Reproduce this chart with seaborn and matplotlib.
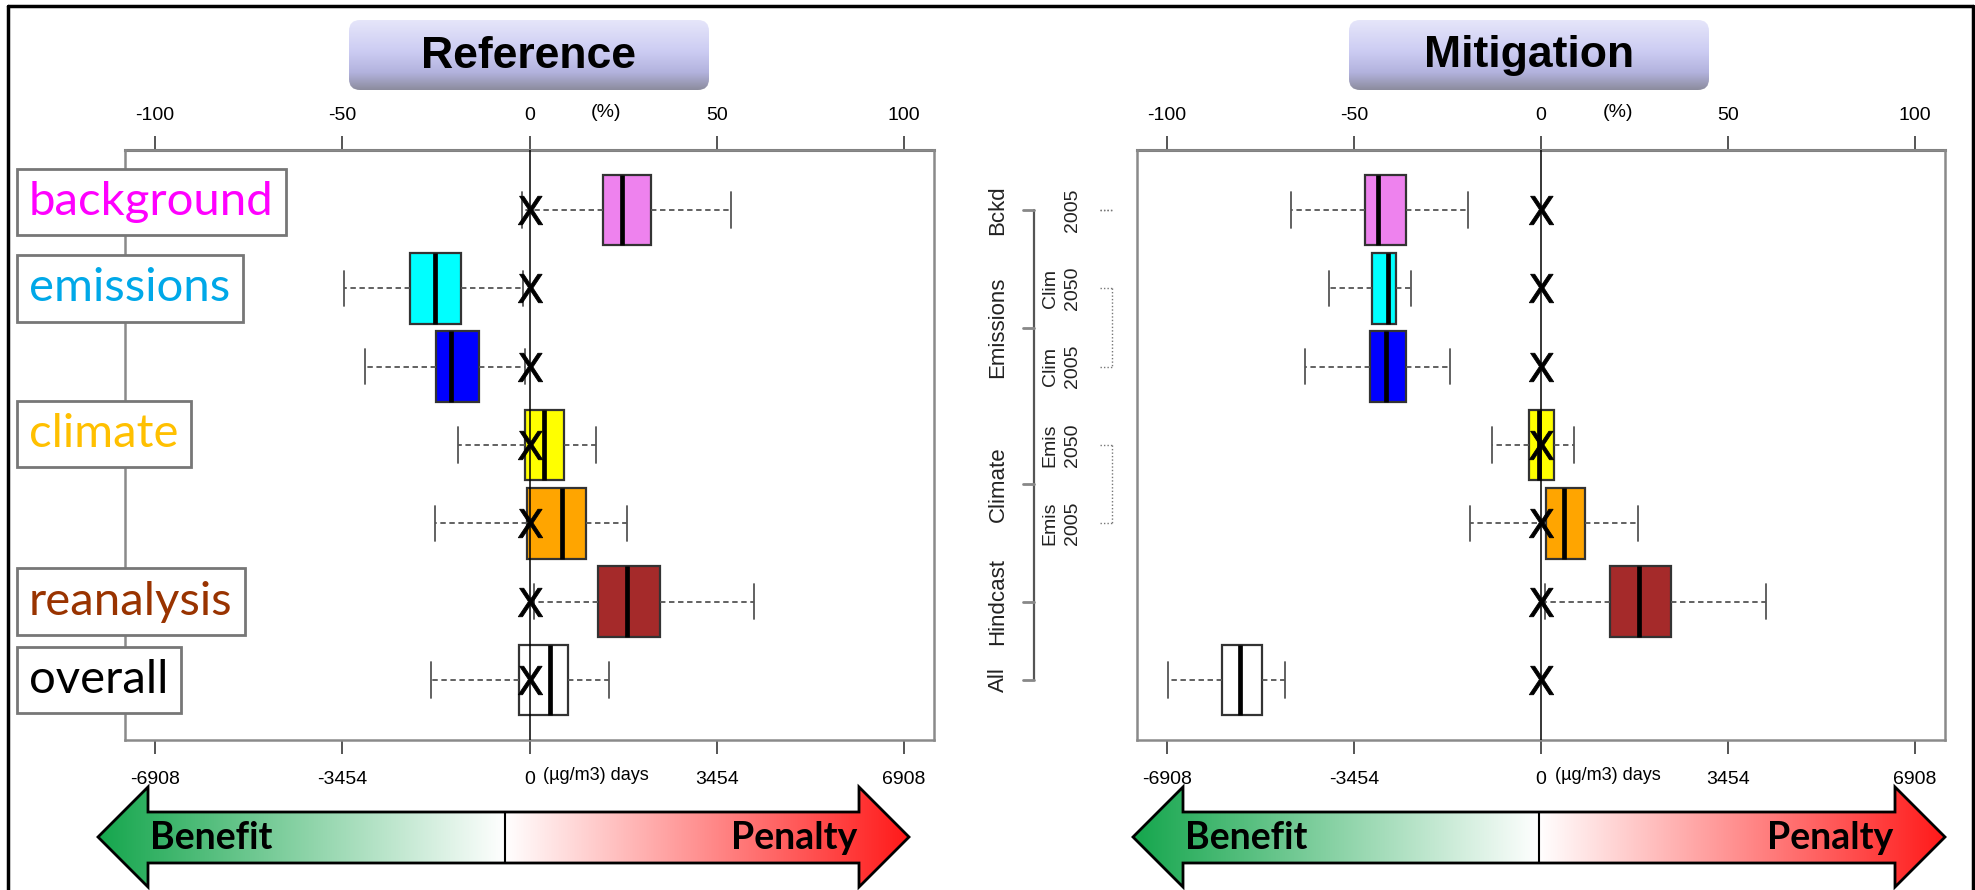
import numpy as np
import pandas as pd
import matplotlib
matplotlib.use('Agg')
import matplotlib.pyplot as plt
import matplotlib.transforms as mtransforms
from matplotlib.patches import FancyBboxPatch, Polygon
import seaborn as sns

# rows top to bottom, same order in both panels
rows = ['bckd', 'emis_clim2050', 'emis_clim2005', 'clim_emis2050', 'clim_emis2005', 'hindcast', 'all']
box_colors = ['violet', 'cyan', 'blue', 'yellow', 'orange', 'brown', 'white']

# five-number summaries (% of reference)
ref_low = [-1.9, -49.5, -43.9, -19.2, -25.3, 1.2, -26.4]
ref_q1 = [19.5, -31.8, -24.9, -1.3, -0.8, 18.4, -2.9]
ref_med = [24.7, -25.1, -21.0, 4.0, 8.8, 26.1, 5.4]
ref_q3 = [32.5, -18.2, -13.5, 9.3, 15.0, 34.8, 10.4]
ref_high = [53.7, -1.7, -1.3, 17.7, 26.1, 59.9, 21.2]
ref_marks = [0, 0, 0, 0, 0, 0, 0]

mit_low = [-66.8, -56.7, -63.0, -13.1, -18.9, 1.0, -99.7]
mit_q1 = [-47.1, -45.3, -45.8, -3.2, 1.3, 18.4, -85.4]
mit_med = [-43.6, -40.9, -41.4, -0.5, 6.1, 26.3, -80.5]
mit_q3 = [-36.2, -38.7, -36.0, 3.4, 11.8, 34.8, -74.6]
mit_high = [-19.4, -34.8, -24.2, 8.9, 25.9, 60.1, -68.4]
mit_marks = [0, 0, 0, 0, 0, 0, 0]

pct_ticks = [-100, -50, 0, 50, 100]
pct_labels = ['-100', '-50', '0', '50', '100']
days_labels = ['-6908', '-3454', '0', '3454', '6908']

ref_names = ['background', 'emissions', 'climate', 'reanalysis', 'overall']
ref_name_pos = [-0.1, 1.0, 2.86, 5.0, 6.0]
ref_name_colors = ['#FF00FF', '#00A8E8', '#FFC000', '#993300', 'black']

grp_names = ['Bckd', 'Emissions', 'Climate', 'Hindcast', 'All']
grp_pos = [0, 1.5, 3.5, 5, 6]
sub_top = ['', 'Clim', 'Clim', 'Emis', 'Emis']
sub_bot = ['2005', '2050', '2005', '2050', '2005']

sns.set_style('white')
plt.rcParams['font.family'] = ['Liberation Sans', 'DejaVu Sans']
plt.rcParams['text.color'] = 'black'
plt.rcParams['xtick.color'] = 'black'

W, H = 1975, 890
fig = plt.figure(figsize=(W / 100, H / 100), dpi=100)

ax_bg = fig.add_axes([0, 0, 1, 1], zorder=0)
ax_bg.axis('off')


def draw_panel(ax, low, q1, med, q3, high, marks):
    df = pd.DataFrame({
        'row': np.repeat(rows, 5),
        'value': np.column_stack([low, q1, med, q3, high]).ravel(),
    })
    sns.boxplot(data=df, x='value', y='row', hue='row', order=rows, hue_order=rows,
                palette=dict(zip(rows, box_colors)), saturation=1, width=0.9,
                whis=(0, 100), linecolor='#333333', linewidth=1.6, legend=False, ax=ax,
                medianprops={'color': 'black', 'linewidth': 3.4},
                whiskerprops={'color': '#555555', 'linestyle': (0, (3, 2)), 'linewidth': 1.3},
                capprops={'color': '#555555', 'linewidth': 1.3})
    ax.axvline(0, color='black', lw=1.1, zorder=4)
    ax.scatter(marks, np.arange(len(rows)), marker='$\\mathrm{X}$', s=420,
               color='black', linewidths=0.6, zorder=6)
    ax.set_xlim(-108, 108)
    ax.set_ylim(len(rows) - 1 + 0.766, -0.766)
    ax.set_xlabel('')
    ax.set_ylabel('')
    ax.set_yticks([])
    ax.set_xticks(pct_ticks, days_labels)
    ax.tick_params(axis='x', direction='out', length=10, width=1.4, color='#555555',
                   labelcolor='black', labelsize=14, pad=12, bottom=True)
    for sp in ax.spines.values():
        sp.set_color('#8a8a8a')
        sp.set_linewidth(1.8)
    top = ax.secondary_xaxis('top')
    top.set_xticks(pct_ticks, pct_labels)
    top.tick_params(axis='x', direction='out', length=10, width=1.4, color='#555555',
                    labelcolor='black', labelsize=14, pad=9)
    top.spines['top'].set_color('#666666')
    top.spines['top'].set_linewidth(2.2)
    ax.text(20.5, 1.063, '(%)', transform=mtransforms.blended_transform_factory(ax.transData, ax.transAxes),
            ha='center', va='center', fontsize=14)
    ax.text(3.7, -0.061, '(\u00b5g/m3) days',
            transform=mtransforms.blended_transform_factory(ax.transData, ax.transAxes),
            ha='left', va='center', fontsize=13)


ax1 = fig.add_axes([125 / W, (H - 740) / H, (934 - 125) / W, 590 / H], zorder=1)
draw_panel(ax1, ref_low, ref_q1, ref_med, ref_q3, ref_high, ref_marks)

ax2 = fig.add_axes([1137 / W, (H - 740) / H, (1945 - 1137) / W, 590 / H], zorder=1)
draw_panel(ax2, mit_low, mit_q1, mit_med, mit_q3, mit_high, mit_marks)

# left panel: boxed category labels
tr1 = mtransforms.blended_transform_factory(ax_bg.transData, ax1.transData)
for name, pos, col in zip(ref_names, ref_name_pos, ref_name_colors):
    ax1.text(29, pos, name, transform=tr1, ha='left', va='center', color=col,
             fontsize=34, family=['Lato', 'DejaVu Sans'], clip_on=False, zorder=10,
             bbox=dict(boxstyle='square,pad=0.26', facecolor='white', edgecolor='#777777', linewidth=2))

# right panel: grouped axis labels
tr2 = mtransforms.blended_transform_factory(ax_bg.transData, ax2.transData)
ax2.plot([1034, 1034], [grp_pos[0], grp_pos[-1]], transform=tr2, color='#555555', lw=1.6, clip_on=False)
for name, pos in zip(grp_names, grp_pos):
    ax2.plot([1023, 1034], [pos, pos], transform=tr2, color='#888888', lw=2, clip_on=False)
    ax2.text(998, pos, name, transform=tr2, rotation=90, ha='center', va='center',
             fontsize=16, color='#222222', clip_on=False)
for i, (t, b) in enumerate(zip(sub_top, sub_bot)):
    ax2.text(1050, i, t, transform=tr2, rotation=90, ha='center', va='center',
             fontsize=14, color='#222222', clip_on=False)
    ax2.text(1073, i, b, transform=tr2, rotation=90, ha='center', va='center',
             fontsize=14, color='#222222', clip_on=False)
# dotted brackets joining paired rows
for r0, r1 in [(0, 0), (1, 2), (3, 4)]:
    ax2.plot([1112, 1112], [r0, r1], transform=tr2, color='#777777', lw=1, ls=(0, (1, 1.5)), clip_on=False)
    for r in (r0, r1):
        ax2.plot([1100, 1112], [r, r], transform=tr2, color='#777777', lw=1, ls=(0, (1, 1.5)), clip_on=False)


# title boxes with vertical gradient
def title_box(cx, text):
    x0, x1, y0, y1 = cx - 180, cx + 180, 20, 90
    patch = FancyBboxPatch((x0, y0), x1 - x0, y1 - y0, boxstyle='round,pad=0,rounding_size=11',
                           facecolor='none', edgecolor='none')
    ax_bg.add_patch(patch)
    stops = [0, 0.45, 0.75, 1.0]
    cols = np.array([[0.90, 0.90, 0.98], [0.80, 0.80, 0.95], [0.70, 0.70, 0.87], [0.55, 0.55, 0.62]])
    t = np.linspace(0, 1, 100)
    grad = np.stack([np.interp(t, stops, cols[:, k]) for k in range(3)], axis=-1)[:, None, :]
    im = ax_bg.imshow(grad, extent=[x0, x1, y1, y0], aspect='auto', zorder=1, interpolation='bilinear')
    im.set_clip_path(patch)
    ax_bg.text(cx, 56, text, ha='center', va='center', fontsize=32, fontweight='bold',
               color='black', zorder=2)


title_box(529, 'Reference')
title_box(1529, 'Mitigation')


# benefit / penalty arrows
def arrow(xl, xr, xdiv):
    hl, hr = xl + 50, xr - 50
    pts = [(xl, 837), (hl, 787), (hl, 812), (hr, 812), (hr, 787), (xr, 837),
           (hr, 887), (hr, 863), (hl, 863), (hl, 887)]
    poly = Polygon(pts, closed=True, facecolor='none', edgecolor='none')
    ax_bg.add_patch(poly)
    xs = np.linspace(xl, xr, 600)
    green = np.array([0.08, 0.65, 0.30])
    red = np.array([1.0, 0.10, 0.10])
    white = np.array([1.0, 1.0, 1.0])
    img = np.zeros((1, len(xs), 3))
    for i, x in enumerate(xs):
        if x <= xdiv:
            f = (x - xl) / (xdiv - xl)
            img[0, i] = green * (1 - f) + white * f
        else:
            f = (x - xdiv) / (xr - xdiv)
            img[0, i] = white * (1 - f) + red * f
    im = ax_bg.imshow(img, extent=[xl, xr, 887, 787], aspect='auto', zorder=1, interpolation='bilinear')
    im.set_clip_path(poly)
    ax_bg.add_patch(Polygon(pts, closed=True, facecolor='none', edgecolor='black', lw=2, zorder=2))
    ax_bg.plot([xdiv, xdiv], [812, 863], color='black', lw=1.5, zorder=2)
    ax_bg.text(hl + 2, 838, 'Benefit', ha='left', va='center', fontsize=27, fontweight='bold',
               color='black', family=['Lato', 'DejaVu Sans'], zorder=3)
    ax_bg.text(hr - 2, 838, 'Penalty', ha='right', va='center', fontsize=27, fontweight='bold',
               color='black', family=['Lato', 'DejaVu Sans'], zorder=3)


arrow(98, 909, 505)
arrow(1133, 1945, 1539)

# outer frame
ax_bg.plot([8, 1973], [6, 6], color='black', lw=2.5)
ax_bg.plot([8, 8], [6, 890], color='black', lw=2.5)
ax_bg.plot([1973, 1973], [6, 890], color='black', lw=2.5)

ax_bg.set_xlim(0, W)
ax_bg.set_ylim(H, 0)

fig.savefig('out.png', dpi=100, facecolor='white')
